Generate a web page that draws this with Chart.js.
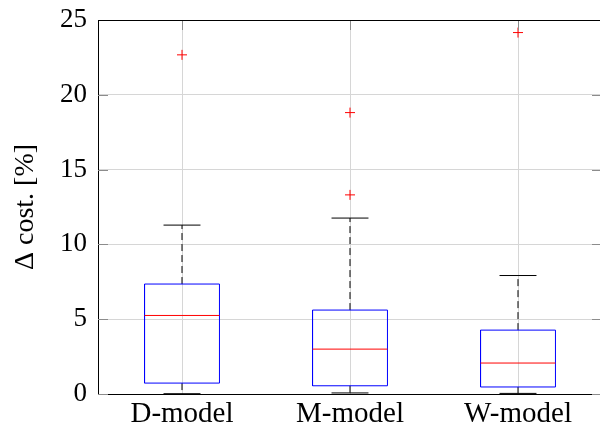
<!DOCTYPE html>
<html>
<head>
<meta charset="utf-8">
<script src="https://cdn.jsdelivr.net/npm/chart.js@4/dist/chart.umd.min.js"></script>
<style>
    html, body { margin: 0; padding: 0; background: #fff; overflow: hidden; }
    canvas { display: block; }
</style>
</head>
<body>
<!-- wider than the window: the right frame edge sits just off the picture -->
<canvas id="box-chart" width="608" height="427"></canvas>
<script>
// Box plot data
const categories = ['D-model', 'M-model', 'W-model'];
const whiskerLow = [0.02, 0.07, 0.04];
const q1 = [0.73, 0.55, 0.47];
const median = [5.25, 3.0, 2.07];
const q3 = [7.35, 5.61, 4.27];
const whiskerHigh = [11.29, 11.76, 7.92];
const outliers = [[22.67], [13.31, 18.81], [24.16]];
const yTicks = [0, 5, 10, 15, 20, 25];

const BOX_HALF = 0.223;
const CAP_HALF = 0.11;
const FONT = { family: 'Liberation Serif', size: 27 };

// Join several line pieces into one dataset, broken by gaps
function pieces(list) {
    const out = [];
    list.forEach(piece => {
        piece.forEach(p => out.push({ x: p[0], y: p[1] }));
        out.push({ x: piece[0][0], y: null });
    });
    return out;
}

const boxes = pieces(categories.map((c, i) => {
    const x = i + 1;
    return [[x - BOX_HALF, q1[i]], [x + BOX_HALF, q1[i]], [x + BOX_HALF, q3[i]],
            [x - BOX_HALF, q3[i]], [x - BOX_HALF, q1[i]]];
}));
const medians = pieces(categories.map((c, i) =>
    [[i + 1 - BOX_HALF, median[i]], [i + 1 + BOX_HALF, median[i]]]));
const whiskers = pieces(categories.flatMap((c, i) => [
    [[i + 1, q3[i]], [i + 1, whiskerHigh[i]]],
    [[i + 1, q1[i]], [i + 1, whiskerLow[i]]]
]));
const caps = pieces(categories.flatMap((c, i) => [
    [[i + 1 - CAP_HALF, whiskerHigh[i]], [i + 1 + CAP_HALF, whiskerHigh[i]]],
    [[i + 1 - CAP_HALF, whiskerLow[i]], [i + 1 + CAP_HALF, whiskerLow[i]]]
]));
const outlierPoints = categories.flatMap((c, i) => outliers[i].map(v => ({ x: i + 1, y: v })));

// Frame on top plus inner tick marks, like the original figure
const framePlugin = {
    id: 'frame',
    afterDraw(chart) {
        const { ctx, chartArea: a, scales } = chart;
        ctx.save();
        ctx.strokeStyle = '#8c8c8c';
        ctx.lineWidth = 1;
        scales.y.ticks.forEach(t => {
            const y = Math.round(scales.y.getPixelForValue(t.value)) + 0.5;
            ctx.beginPath();
            ctx.moveTo(a.left, y); ctx.lineTo(a.left + 10, y);
            ctx.moveTo(a.right, y); ctx.lineTo(a.right - 10, y);
            ctx.stroke();
        });
        scales.x.ticks.forEach(t => {
            const x = Math.round(scales.x.getPixelForValue(t.value)) + 0.5;
            ctx.beginPath();
            ctx.moveTo(x, a.top); ctx.lineTo(x, a.top + 10);
            ctx.stroke();
        });
        ctx.strokeStyle = '#000';
        ctx.beginPath();
        ctx.moveTo(a.left, Math.round(a.top) + 0.5);
        ctx.lineTo(a.right, Math.round(a.top) + 0.5);
        ctx.stroke();
        ctx.restore();
    }
};

new Chart(document.getElementById('box-chart'), {
    type: 'line',
    data: {
        datasets: [
            { data: whiskers, borderColor: '#000', borderWidth: 1, borderDash: [7, 4], pointRadius: 0, order: 3 },
            { data: caps, borderColor: '#000', borderWidth: 1, pointRadius: 0, order: 2 },
            { data: boxes, borderColor: '#0000ff', borderWidth: 1, pointRadius: 0, order: 1 },
            { data: medians, borderColor: '#ff0000', borderWidth: 1, pointRadius: 0, order: 0 },
            {
                data: outlierPoints, showLine: false, pointStyle: 'cross', pointRadius: 5,
                pointBorderColor: '#ff0000', pointBorderWidth: 1, order: 0
            }
        ]
    },
    options: {
        responsive: false,
        animation: false,
        events: [],
        layout: { padding: { top: 20, right: 0, left: 0, bottom: 0 } },
        plugins: { legend: { display: false }, tooltip: { enabled: false } },
        scales: {
            x: {
                type: 'linear',
                min: 0.5,
                max: 3.5,
                afterBuildTicks: scale => { scale.ticks = categories.map((c, i) => ({ value: i + 1 })); },
                afterFit: scale => {
                    scale.height = 33;
                    scale.paddingLeft = 0;
                    scale.paddingRight = 0;
                },
                grid: { color: '#d6d6d6', lineWidth: 1, drawTicks: false },
                border: { color: '#000', width: 1 },
                ticks: {
                    color: '#000', font: { family: 'Liberation Serif', size: 29 }, padding: 3, maxRotation: 0,
                    callback: value => categories[value - 1]
                }
            },
            y: {
                min: 0,
                max: 25,
                afterBuildTicks: scale => { scale.ticks = yTicks.map(v => ({ value: v })); },
                afterFit: scale => {
                    scale.width = 98;
                    scale.paddingTop = 0;
                    scale.paddingBottom = 0;
                },
                grid: { color: '#d6d6d6', lineWidth: 1, drawTicks: false },
                border: { color: '#000', width: 1 },
                ticks: { color: '#000', font: FONT, padding: 11 },
                title: {
                    display: true,
                    text: '\u0394 cost. [%]',
                    color: '#000',
                    font: { family: 'Liberation Serif', size: 28 },
                    padding: { top: 9, bottom: 0 }
                }
            }
        }
    },
    plugins: [framePlugin]
});
</script>
</body>
</html>
